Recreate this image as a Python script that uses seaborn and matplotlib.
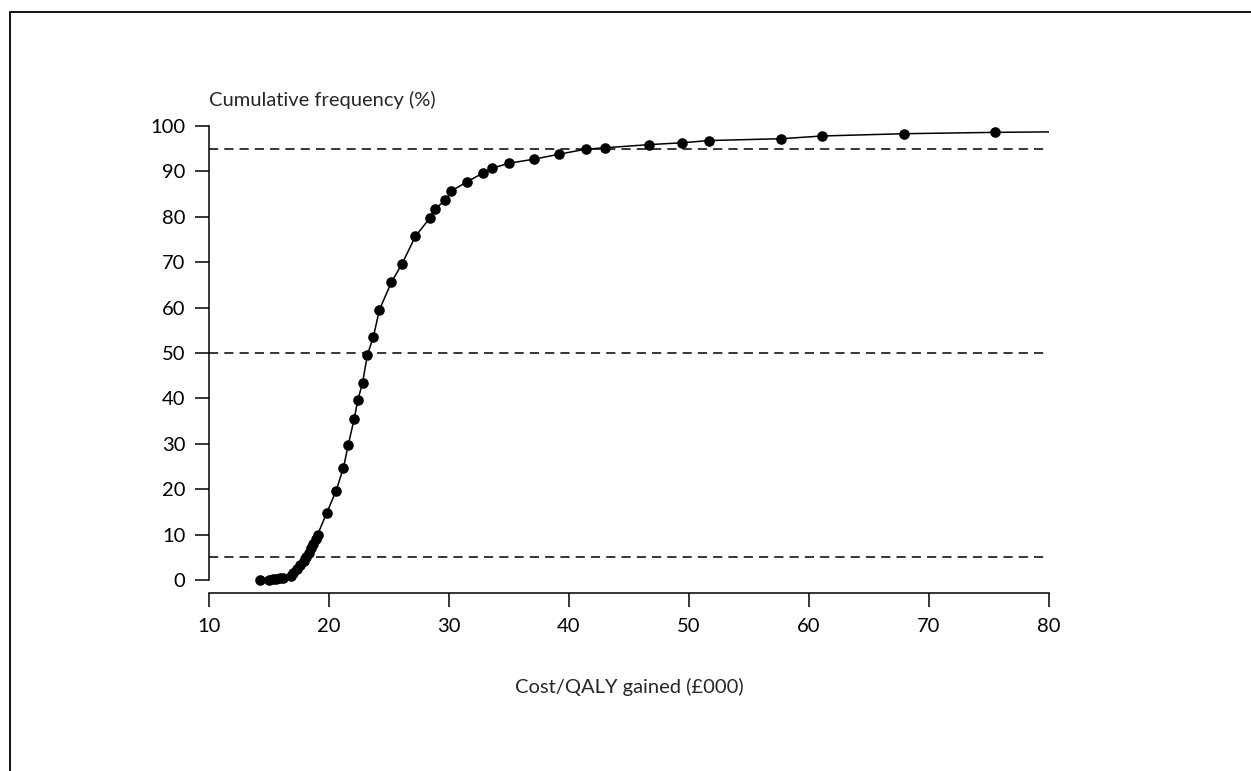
import matplotlib
matplotlib.use("Agg")
import matplotlib.pyplot as plt
import seaborn as sns
import pandas as pd

# === Data ===
cost_k = [14.25, 15.0, 15.3, 15.6, 15.9, 16.2, 16.8,
          17.0, 17.3, 17.6, 17.9, 18.1, 18.3, 18.5, 18.7, 18.9, 19.05,
          19.8, 20.6, 21.2, 21.6, 22.1, 22.4, 22.8, 23.2, 23.7,
          24.2, 25.2, 26.1, 27.2, 28.4, 28.8, 29.7, 30.2, 31.5,
          32.8, 33.6, 35.0, 37.1, 39.2, 41.4, 43.0, 46.7, 49.4,
          51.7, 57.7, 61.1, 67.9, 75.5]
cum_freq = [0.0, 0.1, 0.2, 0.3, 0.4, 0.5, 0.9,
            1.5, 2.5, 3.3, 4.2, 5.0, 6.0, 7.0, 8.0, 9.0, 10.0,
            14.7, 19.7, 24.7, 29.7, 35.5, 39.6, 43.5, 49.6, 53.6,
            59.5, 65.6, 69.7, 75.7, 79.7, 81.7, 83.6, 85.7, 87.7,
            89.6, 90.7, 91.8, 92.7, 93.8, 94.9, 95.2, 95.9, 96.3,
            96.8, 97.2, 97.8, 98.3, 98.6]
# curve continues to the axis end without a marker
curve_end_x = 80.0
curve_end_y = 98.7

ref_levels = [5, 50, 95]
x_ticks = [10, 20, 30, 40, 50, 60, 70, 80]
y_ticks = [0, 10, 20, 30, 40, 50, 60, 70, 80, 90, 100]

points = pd.DataFrame({"cost": cost_k, "freq": cum_freq})
curve = pd.DataFrame({"cost": cost_k + [curve_end_x], "freq": cum_freq + [curve_end_y]})

# === Style ===
sns.set_style("white")
plt.rcParams["font.family"] = ["Lato", "DejaVu Sans"]

fig = plt.figure(figsize=(12.51, 7.71), dpi=100)
ax = fig.add_axes([209 / 1251, 1 - 580 / 771, 840 / 1251, 454 / 771])

# frame around the figure (only left and top edges are visible)
fig.patches.append(plt.Rectangle((10 / 1251, -0.2), 1.5, 0.2 + 1 - 12 / 771,
                                 transform=fig.transFigure, fill=False,
                                 edgecolor="black", linewidth=1.3))

# reference lines
for lvl in ref_levels:
    ax.axhline(lvl, color="black", linewidth=1.1, linestyle=(0, (6, 4)), zorder=1)

sns.lineplot(data=curve, x="cost", y="freq", color="black", linewidth=1.1,
             sort=False, ax=ax, zorder=2)
sns.scatterplot(data=points, x="cost", y="freq", color="black", s=58,
                edgecolor="black", linewidth=0, ax=ax, zorder=3, clip_on=False)

ax.set_xlim(10, 80)
ax.set_ylim(0, 100)
ax.set_xticks(x_ticks)
ax.set_yticks(y_ticks)

for side in ["top", "right"]:
    ax.spines[side].set_visible(False)
for side in ["left", "bottom"]:
    ax.spines[side].set_color("black")
    ax.spines[side].set_linewidth(1.1)
ax.spines["bottom"].set_position(("outward", 9.5))

ax.tick_params(axis="both", direction="out", length=10, width=1.1,
               color="black", labelsize=14.5, labelcolor="black",
               bottom=True, left=True)
ax.tick_params(axis="y", pad=7)
ax.tick_params(axis="x", pad=8)

ax.set_xlabel("Cost/QALY gained (£000)", fontsize=14.5, labelpad=31)
ax.set_ylabel("")
ax.text(0.0, 1.058, "Cumulative frequency (%)", transform=ax.transAxes,
        fontsize=14.5, ha="left", va="center")

fig.savefig("out.png", dpi=100)
plt.close(fig)
